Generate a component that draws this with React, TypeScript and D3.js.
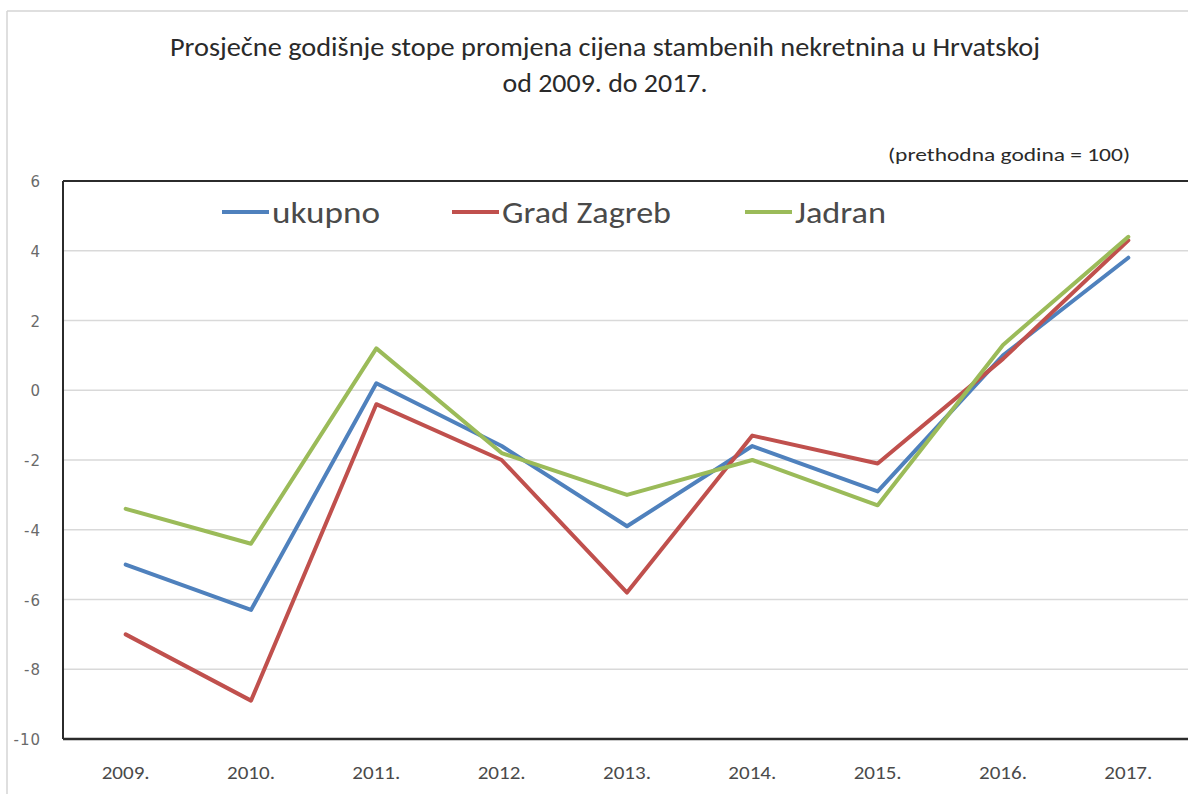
import React from "react";
import * as d3 from "d3";

const years = ["2009.", "2010.", "2011.", "2012.", "2013.", "2014.", "2015.", "2016.", "2017."];
const ukupno = [-5.0, -6.3, 0.2, -1.6, -3.9, -1.6, -2.9, 1.0, 3.8];
const gradZagreb = [-7.0, -8.9, -0.4, -2.0, -5.8, -1.3, -2.1, 0.9, 4.3];
const jadran = [-3.4, -4.4, 1.2, -1.8, -3.0, -2.0, -3.3, 1.3, 4.4];
const yTicks = [6, 4, 2, 0, -2, -4, -6, -8, -10];
const seriesNames = ["ukupno", "Grad Zagreb", "Jadran"];
const seriesColors = ["#4F81BD", "#C0504D", "#9BBB59"];
const titleLines = [
  "Prosječne godišnje stope promjena cijena stambenih nekretnina u Hrvatskoj",
  "od 2009. do 2017.",
];
const unitNote = "(prethodna godina = 100)";

const W = 1188;
const H = 794;
const plot = { left: 63, right: 1191, top: 181, bottom: 739 };
const narrow = "Carlito, 'Liberation Sans Narrow', 'Open Sans', sans-serif";
const arialNarrow = "'Liberation Sans Narrow', 'Arial Narrow', Carlito, sans-serif";

export default function App() {
  const x = d3
    .scaleBand<string>()
    .domain(years)
    .range([plot.left, plot.right])
    .padding(0);
  const y = d3.scaleLinear().domain([-10, 6]).range([plot.bottom, plot.top]);
  const cx = (d: string) => (x(d) ?? 0) + x.bandwidth() / 2;
  const line = d3
    .line<number>()
    .x((_, i) => cx(years[i]))
    .y((v) => y(v));
  const series = [ukupno, gradZagreb, jadran];
  const legendX = [222, 452, 745];
  const legendLen = [108, 169, 91];
  const titleLen = [870, 205];

  return (
    <svg
      width={W}
      height={H}
      style={{ position: "absolute", left: 0, top: 0, background: "#fff" }}
    >
      <rect x={0} y={0} width={W} height={H} fill="#fff" />
      {/* outer chart frame */}
      <line x1={7} y1={11} x2={W} y2={11} stroke="#d4d4d4" strokeWidth={1.5} />
      <line x1={7} y1={11} x2={7} y2={H} stroke="#d4d4d4" strokeWidth={1.5} />

      {/* title */}
      {titleLines.map((t, i) => (
        <text
          key={i}
          x={605}
          y={56 + i * 36}
          textAnchor="middle"
          fontFamily={narrow}
          fontSize={26}
          fill="#2a2a2a"
          textLength={titleLen[i]}
          lengthAdjust="spacingAndGlyphs"
        >
          {t}
        </text>
      ))}
      <text
        x={1130}
        y={161}
        textAnchor="end"
        fontFamily={arialNarrow}
        fontSize={18}
        fill="#2a2a2a"
        textLength={242}
        lengthAdjust="spacingAndGlyphs"
      >
        {unitNote}
      </text>

      {/* gridlines */}
      {yTicks
        .filter((t) => t !== 6 && t !== -10)
        .map((t) => (
          <line
            key={t}
            x1={plot.left}
            x2={plot.right}
            y1={y(t)}
            y2={y(t)}
            stroke="#d9d9d9"
            strokeWidth={1.5}
          />
        ))}

      {/* plot frame */}
      <line x1={plot.left} x2={plot.right} y1={plot.top} y2={plot.top} stroke="#2b2b2b" strokeWidth={2} />
      <line x1={plot.left} x2={plot.left} y1={plot.top} y2={plot.bottom} stroke="#2b2b2b" strokeWidth={2} />
      <line x1={plot.left} x2={plot.right} y1={plot.bottom} y2={plot.bottom} stroke="#2b2b2b" strokeWidth={2.5} />

      {/* y tick labels */}
      {yTicks.map((t) => (
        <text
          key={t}
          x={41}
          y={y(t) + 6}
          textAnchor="end"
          fontFamily="'DejaVu Sans', Verdana, sans-serif"
          fontSize={15}
          letterSpacing={1}
          fill="#6a6a6a"
        >
          {t}
        </text>
      ))}

      {/* x labels */}
      {years.map((yr) => (
        <text
          key={yr}
          x={cx(yr)}
          y={779}
          textAnchor="middle"
          fontFamily={narrow}
          fontSize={19}
          fill="#4a4a4a"
          textLength={48}
          lengthAdjust="spacingAndGlyphs"
        >
          {yr}
        </text>
      ))}

      {/* lines */}
      {series.map((s, i) => (
        <path
          key={i}
          d={line(s) ?? ""}
          fill="none"
          stroke={seriesColors[i]}
          strokeWidth={4}
          strokeLinejoin="round"
          strokeLinecap="round"
        />
      ))}

      {/* legend */}
      {seriesNames.map((n, i) => (
        <g key={n}>
          <line
            x1={legendX[i]}
            x2={legendX[i] + 47}
            y1={212}
            y2={212}
            stroke={seriesColors[i]}
            strokeWidth={4}
          />
          <text
            x={legendX[i] + 50}
            y={223}
            fontFamily={narrow}
            fontSize={31}
            fill="#4a4a4a"
            textLength={legendLen[i]}
            lengthAdjust="spacingAndGlyphs"
          >
            {n}
          </text>
        </g>
      ))}
    </svg>
  );
}
